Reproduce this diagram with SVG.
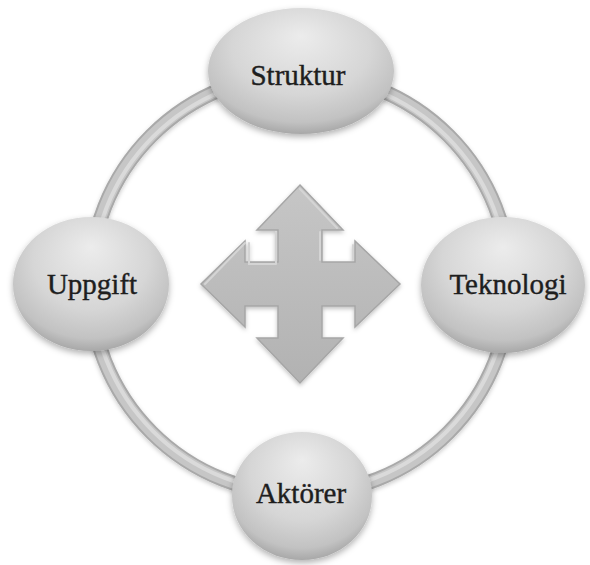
<svg xmlns="http://www.w3.org/2000/svg" width="590" height="565" viewBox="0 0 590 565">
  <defs>
    <radialGradient id="ballGrad" cx="50%" cy="38%" r="62%" fx="50%" fy="22%">
      <stop offset="0" stop-color="#ececec"/>
      <stop offset="0.6" stop-color="#d6d6d6"/>
      <stop offset="0.88" stop-color="#c2c2c2"/>
      <stop offset="1" stop-color="#a8a8a8"/>
    </radialGradient>
    <linearGradient id="arrowGrad" x1="0" y1="0" x2="0" y2="1">
      <stop offset="0" stop-color="#c6c6c6"/>
      <stop offset="1" stop-color="#b2b2b2"/>
    </linearGradient>
    <filter id="shadow" x="-20%" y="-20%" width="140%" height="150%">
      <feDropShadow dx="0" dy="3" stdDeviation="3" flood-color="#000" flood-opacity="0.3"/>
    </filter>
    <filter id="ringShadow" x="-10%" y="-10%" width="120%" height="120%">
      <feDropShadow dx="0" dy="2" stdDeviation="2" flood-color="#000" flood-opacity="0.2"/>
    </filter>
    <filter id="bevel" x="-10%" y="-10%" width="120%" height="120%">
      <feDropShadow dx="0" dy="2" stdDeviation="2" flood-color="#000" flood-opacity="0.25"/>
    </filter>
  </defs>
  <style>
    .node { fill: url(#ballGrad); filter: url(#shadow); }
    .label { font-family: "Liberation Serif", "DejaVu Serif", serif; font-size: 29px; fill: #1e1e1e; stroke: #1e1e1e; stroke-width: 0.4; text-anchor: middle; }
    .ringOuter { fill: none; stroke: #a9a9a9; stroke-width: 15; }
    .ringMid { fill: none; stroke: #c6c6c6; stroke-width: 11; }
    .ringHi { fill: none; stroke: #dadada; stroke-width: 4; }
  </style>
  <rect width="590" height="565" fill="#ffffff"/>
  <g id="connectors" filter="url(#ringShadow)">
    <circle class="ringOuter" cx="300" cy="284" r="210"/>
    <circle class="ringMid" cx="300" cy="284" r="210"/>
    <circle class="ringHi" cx="300" cy="284" r="208"/>
  </g>
  <g id="arrows" filter="url(#bevel)">
    <path d="M300,185 L343,230 L322,230 L322,262 L355,262 L355,241 L400,284 L355,327 L355,306 L322,306 L322,338 L343,338 L300,383 L257,338 L278,338 L278,306 L245,306 L245,327 L201,284 L245,241 L245,262 L278,262 L278,230 L257,230 Z" fill="url(#arrowGrad)" stroke="#a6a6a6" stroke-width="1.5" stroke-linejoin="miter"/>
    <path d="M300,189 L337,228 M320,232 L320,260 M353,260 L353,245 M249,243 L249,264 L276,264 M276,264 L276,232 M205,284 L245,243" fill="none" stroke="#d4d4d4" stroke-width="2" stroke-linecap="round"/>
  </g>
  <g id="struktur">
    <ellipse class="node" cx="301" cy="71" rx="93" ry="63"/>
    <text class="label" x="298" y="85">Struktur</text>
  </g>
  <g id="uppgift">
    <ellipse class="node" cx="91" cy="284" rx="78" ry="67"/>
    <text class="label" x="92" y="294">Uppgift</text>
  </g>
  <g id="teknologi">
    <ellipse class="node" cx="503" cy="285" rx="82" ry="68"/>
    <text class="label" x="508" y="294">Teknologi</text>
  </g>
  <g id="aktorer">
    <ellipse class="node" cx="302" cy="496" rx="70" ry="64"/>
    <text class="label" x="301" y="503">Aktörer</text>
  </g>
</svg>
